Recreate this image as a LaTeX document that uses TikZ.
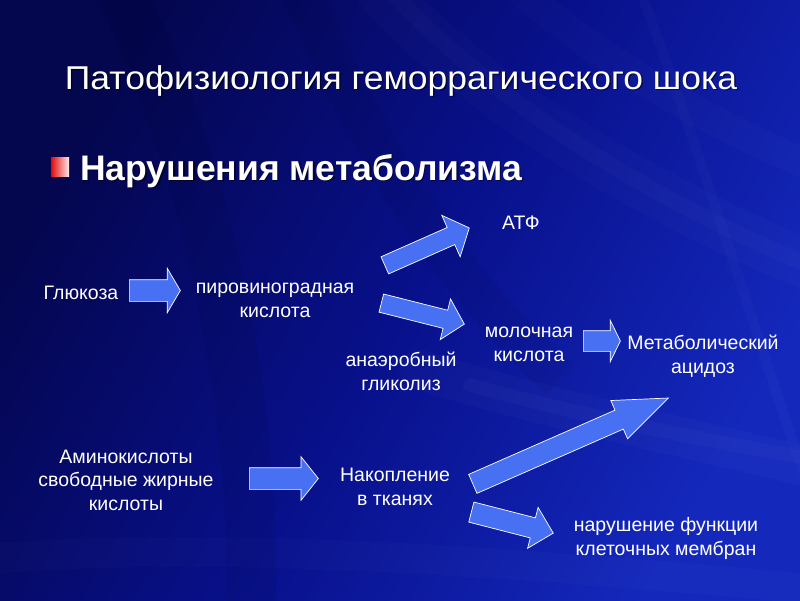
\documentclass[tikz,border=0pt]{standalone}
\usepackage{fontspec}
\setmainfont{Liberation Sans}
\usepackage{graphicx}
\usetikzlibrary{shapes.arrows}
\definecolor{bgdark}{RGB}{4,6,78}
\definecolor{bgmid}{RGB}{8,16,138}
\definecolor{bgbright}{RGB}{20,40,188}
\definecolor{arrowblue}{RGB}{72,112,242}
\definecolor{bulletred}{RGB}{225,10,10}
\definecolor{bulletpale}{RGB}{255,232,232}
\begin{document}
\begin{tikzpicture}[x=1pt,y=1pt,
  lbl/.style={text=white, font=\fontsize{19.5}{23.5}\selectfont, align=center, inner sep=0pt, anchor=base},
  barrow/.style={single arrow, draw=white, line width=0.7pt, fill=arrowblue, inner xsep=0pt,
    text height=0pt, text depth=0pt, minimum width=0pt, anchor=tail, line join=miter},
  streak/.style={white, line cap=round},
  shadowtxt/.style={text=black, opacity=0.55},
]
\useasboundingbox (0,0) rectangle (800,-600);
% background
\shade[shading=axis, top color=bgdark, bottom color=bgbright, middle color=bgmid, shading angle=60]
  (0,0) rectangle (800,-600);
\begin{scope}
\clip (0,0) rectangle (800,-600);
\draw[streak, line width=50pt, opacity=0.015] (380,10) .. controls (480,-100) and (650,-200) .. (820,-270);
\draw[streak, line width=16pt, opacity=0.02] (390,10) .. controls (490,-100) and (650,-200) .. (820,-270);
\draw[streak, line width=30pt, opacity=0.015] (520,10) .. controls (600,-60) and (700,-120) .. (820,-170);
\draw[streak, line width=10pt, opacity=0.02] (640,10) .. controls (700,-150) and (760,-350) .. (820,-520);
\draw[streak, line width=40pt, opacity=0.02] (420,-370) .. controls (550,-410) and (700,-440) .. (820,-470);
\draw[streak, line width=14pt, opacity=0.025] (470,-385) .. controls (580,-415) and (700,-440) .. (820,-460);
\draw[streak, line width=30pt, opacity=0.015] (-20,-560) .. controls (200,-540) and (500,-560) .. (820,-590);
\draw[black, line width=50pt, opacity=0.06] (120,10) .. controls (200,-150) and (260,-400) .. (250,-620);
\draw[black, line width=40pt, opacity=0.05] (300,10) .. controls (360,-120) and (420,-250) .. (560,-380);
\end{scope}
% title
\node[anchor=base, inner sep=0pt, shadowtxt] at (402.5,-90.5)
  {\resizebox{672pt}{\height}{\fontsize{33}{38}\selectfont Патофизиология геморрагического шока}};
\node[anchor=base, inner sep=0pt, text=white] (title) at (401,-89)
  {\resizebox{672pt}{\height}{\fontsize{33}{38}\selectfont Патофизиология геморрагического шока}};
% bullet and heading
\shade[left color=bulletred, right color=bulletpale] (51,-157) rectangle (69,-176);
\node[anchor=base west, inner sep=0pt, shadowtxt, font=\bfseries\fontsize{35.5}{40}\selectfont]
  at (81.5,-181.5) {Нарушения метаболизма};
\node[anchor=base west, inner sep=0pt, text=white, font=\bfseries\fontsize{35.5}{40}\selectfont]
  (head) at (80,-180) {Нарушения метаболизма};
% labels (anchor = baseline of the last line)
\node[lbl] (glu) at (81,-299) {Глюкоза};
\node[lbl] (pyr) at (275,-317) {пировиноградная\\кислота};
\node[lbl] (atp) at (521,-229) {АТФ};
\node[lbl] (lac) at (529,-361) {молочная\\кислота};
\node[lbl] (ana) at (401,-390) {анаэробный\\гликолиз};
\node[lbl] (acid) at (703,-373) {Метаболический\\ацидоз};
\node[lbl] (amino) at (126,-510) {Аминокислоты\\свободные жирные\\кислоты};
\node[lbl] (acc) at (395,-505) {Накопление\\в тканях};
\node[lbl] (mem) at (666,-555) {нарушение функции\\клеточных мембран};
% block arrows
\node[barrow, minimum height=51pt, inner ysep=10.5pt, single arrow head extend=11.5pt,
  single arrow tip angle=119] (a1) at (129,-290.5) {};
\node[barrow, rotate=23.9, minimum height=92.4pt, inner ysep=9pt, single arrow head extend=13.3pt,
  single arrow tip angle=97] (a2) at (384.5,-265.5) {};
\node[barrow, rotate=-14.2, minimum height=85.6pt, inner ysep=9pt, single arrow head extend=11.6pt,
  single arrow tip angle=94] (a3) at (381,-303) {};
\node[barrow, minimum height=37pt, inner ysep=10pt, single arrow head extend=10.5pt,
  single arrow tip angle=128] (a4) at (583,-341) {};
\node[barrow, rotate=23.7, minimum height=213.6pt, inner ysep=10pt, single arrow head extend=10.5pt,
  single arrow tip angle=42.4] (a5) at (472.5,-484) {};
\node[barrow, minimum height=69pt, inner ysep=10.5pt, single arrow head extend=11pt,
  single arrow tip angle=103] (a6) at (249,-478.5) {};
\node[barrow, rotate=-14.4, minimum height=84.6pt, inner ysep=10pt, single arrow head extend=10.75pt,
  single arrow tip angle=90] (a7) at (471,-512) {};
\end{tikzpicture}
\end{document}
